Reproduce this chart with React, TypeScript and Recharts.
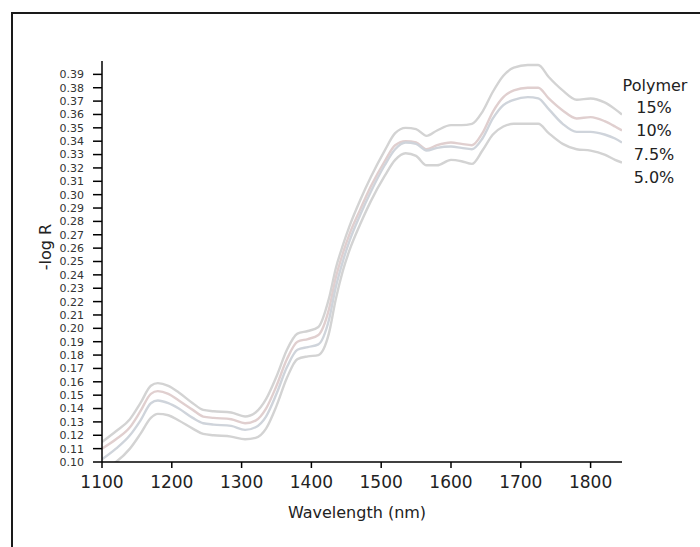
import React from 'react';
import { LineChart, Line, XAxis, YAxis } from 'recharts';

const wavelengths = [1100,1120,1140,1155,1170,1180,1195,1210,1230,1245,1260,1285,1305,1320,1335,1350,1365,1380,1395,1410,1425,1435,1445,1455,1470,1485,1505,1520,1535,1550,1565,1580,1600,1615,1630,1645,1660,1675,1690,1710,1725,1740,1760,1780,1800,1820,1835,1845];

const polymer15 = [0.115,0.123,0.132,0.144,0.157,0.159,0.157,0.152,0.144,0.139,0.138,0.137,0.134,0.137,0.147,0.164,0.184,0.196,0.198,0.201,0.222,0.245,0.262,0.277,0.296,0.313,0.333,0.346,0.350,0.349,0.344,0.348,0.352,0.352,0.353,0.362,0.377,0.389,0.395,0.397,0.397,0.388,0.378,0.371,0.372,0.369,0.364,0.360];
const polymer10 = [0.110,0.117,0.126,0.138,0.151,0.153,0.151,0.146,0.139,0.134,0.133,0.132,0.129,0.131,0.140,0.157,0.177,0.190,0.192,0.195,0.214,0.238,0.256,0.271,0.289,0.306,0.325,0.337,0.340,0.339,0.334,0.337,0.339,0.338,0.337,0.346,0.362,0.373,0.378,0.380,0.380,0.372,0.363,0.357,0.358,0.355,0.351,0.348];
const polymer75 = [0.102,0.110,0.120,0.131,0.144,0.146,0.144,0.140,0.133,0.129,0.128,0.127,0.124,0.126,0.134,0.151,0.171,0.184,0.186,0.188,0.206,0.231,0.250,0.266,0.285,0.302,0.322,0.334,0.339,0.338,0.333,0.335,0.336,0.335,0.334,0.342,0.357,0.367,0.371,0.373,0.372,0.364,0.353,0.347,0.347,0.345,0.342,0.339];
const polymer50 = [0.094,0.100,0.110,0.121,0.133,0.136,0.135,0.131,0.125,0.121,0.120,0.119,0.117,0.118,0.125,0.142,0.163,0.177,0.179,0.180,0.196,0.222,0.243,0.259,0.278,0.295,0.314,0.326,0.331,0.329,0.322,0.322,0.326,0.325,0.323,0.333,0.345,0.351,0.353,0.353,0.353,0.346,0.338,0.334,0.333,0.330,0.326,0.324];

const xTicks = [1100,1200,1300,1400,1500,1600,1700,1800];
const yTicks = [0.10,0.11,0.12,0.13,0.14,0.15,0.16,0.17,0.18,0.19,0.20,0.21,0.22,0.23,0.24,0.25,0.26,0.27,0.28,0.29,0.30,0.31,0.32,0.33,0.34,0.35,0.36,0.37,0.38,0.39];
const legendTitle = 'Polymer';
const legendLabels = ['15%', '10%', '7.5%', '5.0%'];

const data = wavelengths.map((wl, i) => ({
  wl,
  p15: polymer15[i],
  p10: polymer10[i],
  p75: polymer75[i],
  p50: polymer50[i],
}));

const FONT = '"DejaVu Sans", sans-serif';

export default function App() {
  return (
    <div style={{ position: 'absolute', left: 0, top: 0, width: 700, height: 547, overflow: 'hidden', background: '#fff', fontFamily: FONT }}>
      <div style={{ position: 'absolute', left: 11, top: 12, width: 720, height: 560, borderLeft: '2px solid #1a1a1a', borderTop: '2px solid #1a1a1a' }} />
      <div style={{ position: 'absolute', left: 0, top: 0 }}>
        <LineChart width={700} height={547} data={data} margin={{ top: 61, right: 78, bottom: 55, left: 42 }}>
          <XAxis
            dataKey="wl"
            type="number"
            domain={[1100, 1845]}
            ticks={xTicks}
            allowDataOverflow
            height={30}
            tickSize={6}
            tickMargin={8}
            axisLine={{ stroke: '#000', strokeWidth: 1.5 }}
            tickLine={{ stroke: '#000', strokeWidth: 1.5 }}
            tick={{ fontSize: 17, fill: '#222', fontFamily: FONT }}
          />
          <YAxis
            type="number"
            domain={[0.1, 0.4]}
            ticks={yTicks}
            allowDataOverflow
            width={60}
            tickSize={9}
            tickMargin={9}
            interval={0}
            tickFormatter={(v: number) => v.toFixed(2)}
            axisLine={{ stroke: '#000', strokeWidth: 1.5 }}
            tickLine={{ stroke: '#000', strokeWidth: 1.5 }}
            tick={{ fontSize: 11, fill: '#333', fontFamily: FONT }}
          />
          <Line dataKey="p15" type="monotone" stroke="#d3d3d3" strokeWidth={2.4} dot={false} isAnimationActive={false} />
          <Line dataKey="p10" type="monotone" stroke="#e0cfcf" strokeWidth={2.4} dot={false} isAnimationActive={false} />
          <Line dataKey="p75" type="monotone" stroke="#cfd4db" strokeWidth={2.4} dot={false} isAnimationActive={false} />
          <Line dataKey="p50" type="monotone" stroke="#d3d3d3" strokeWidth={2.4} dot={false} isAnimationActive={false} />
        </LineChart>
      </div>
      <div style={{ position: 'absolute', left: 45, top: 247, transform: 'translate(-50%, -50%) rotate(-90deg)', fontSize: 16, color: '#222', whiteSpace: 'nowrap' }}>-log R</div>
      <div style={{ position: 'absolute', left: 357, top: 512, transform: 'translate(-50%, -50%)', fontSize: 16, color: '#222', whiteSpace: 'nowrap' }}>Wavelength (nm)</div>
      <div style={{ position: 'absolute', left: 655, top: 85, transform: 'translate(-50%, -50%)', fontSize: 16, color: '#222', whiteSpace: 'nowrap' }}>{legendTitle}</div>
      {legendLabels.map((l, i) => (
        <div key={l} style={{ position: 'absolute', left: 654, top: 107 + i * 23.3, transform: 'translate(-50%, -50%)', fontSize: 16, color: '#222', whiteSpace: 'nowrap' }}>{l}</div>
      ))}
    </div>
  );
}
